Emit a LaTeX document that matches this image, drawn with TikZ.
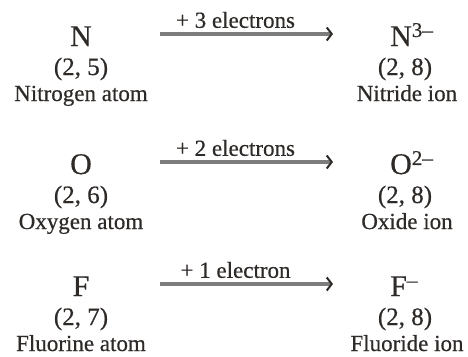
\documentclass[tikz,border=0pt]{standalone}
\usepackage{fontspec}
\setmainfont{Liberation Serif}[FakeBold=0.5]
\usepackage{xcolor}
\definecolor{InkGray}{RGB}{45,42,40}
\definecolor{ArrowGray}{RGB}{125,125,125}
\usepackage{tikz}
\usetikzlibrary{arrows.meta, positioning}

\begin{document}
\begin{tikzpicture}[x=1pt, y=-1pt,
    symbox/.style={anchor=base, inner sep=0pt, text=InkGray, text height=24pt, text depth=0pt,
                   font=\fontsize{30}{31}\selectfont},
    cfgbox/.style={anchor=base, inner sep=0pt, text=InkGray, font=\fontsize{25}{27}\selectfont},
    namebox/.style={anchor=base, inner sep=0pt, text=InkGray, font=\fontsize{23}{25}\selectfont},
    gainlabel/.style={midway, above=4.5pt, inner sep=0pt, text depth=0pt, text=InkGray,
                      font=\fontsize{23}{25}\selectfont},
    gainarrow/.style={line width=3.4pt, draw=ArrowGray, shorten <=79pt, shorten >=57pt,
                      -{Straight Barb[length=5pt, width=13pt, line width=2pt, color=InkGray]}}]
    \useasboundingbox (0,0) rectangle (468,356);
    % atom -> ion, one row per element
    \foreach \yb/\elem/\chg/\cfg/\atomname/\ionname/\gain [count=\r from 0] in {
        46/N/3--/5/Nitrogen atom/Nitride ion/+ 3 electrons,
        174/O/2--/6/Oxygen atom/Oxide ion/+ 2 electrons,
        296/F/--/7/Fluorine atom/Fluoride ion/+ 1 electron} {
        \node[symbox] (atom\r) at (81,\yb) {\elem};
        \node[symbox, anchor=base west] (ion\r) at (390,\yb) {\elem\textsuperscript{\chg}};
        \node[cfgbox] (atomcfg\r) at (81,\yb+29) {(2, \cfg)};
        \node[cfgbox] (ioncfg\r) at (405,\yb+29) {(2, 8)};
        \node[namebox] (atomname\r) at (81,\yb+55) {\atomname};
        \node[namebox] (ionname\r) at (407,\yb+55) {\ionname};
        \draw[gainarrow] (atom\r.center) -- node[gainlabel] {\gain} (ion\r.west);
    }
\end{tikzpicture}
\end{document}
